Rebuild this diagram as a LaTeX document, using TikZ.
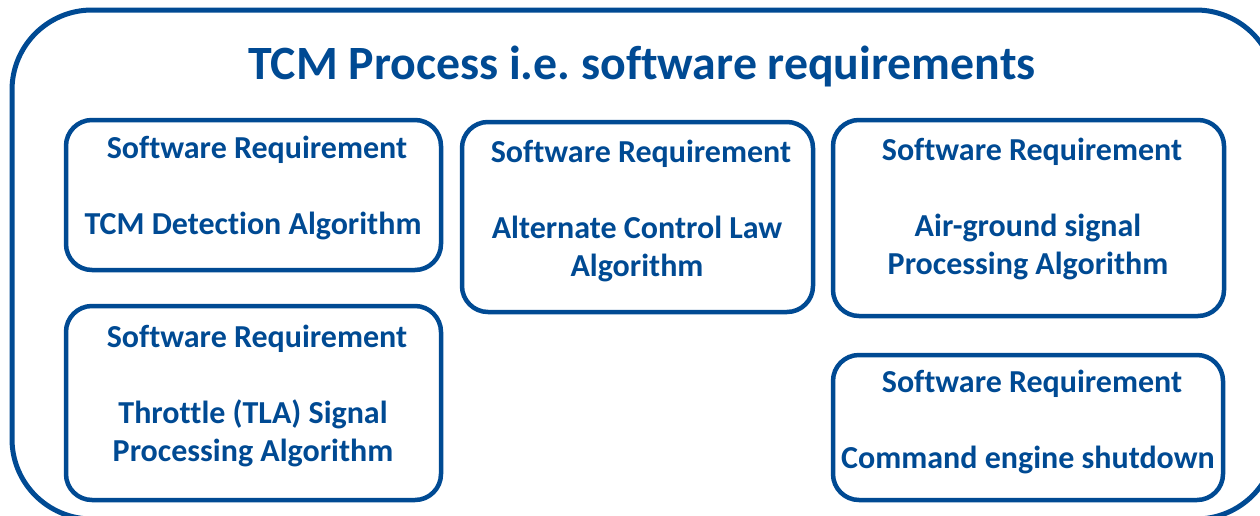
\documentclass[tikz,border=0pt]{standalone}
\usepackage{fontspec}
\setmainfont{Carlito}[Ligatures=NoCommon]
\frenchspacing
\definecolor{reqblue}{RGB}{0,74,147}
\newcommand{\reqhead}{\hspace*{8pt}Software Requirement}
\tikzset{
  outerframe/.style={draw=reqblue, line width=5pt, rounded corners=80pt},
  reqbox/.style={draw=reqblue, line width=4.5pt, rounded corners=26pt, inner sep=0pt},
  reqtext/.style={text=reqblue, font=\bfseries\fontsize{32}{38}\selectfont, align=center, inner sep=0pt},
  titletext/.style={text=reqblue, font=\bfseries\fontsize{47.8}{58}\selectfont, inner sep=0pt}
}
\begin{document}
\begin{tikzpicture}[x=1pt,y=-1pt]
\useasboundingbox (0,0) rectangle (1260,515);
\clip (0,0) rectangle (1260,515);
% outer process frame, running past the right and bottom edges
\draw[outerframe] (12,10) rectangle (1276,519);
\node[titletext] (title) at (642,66) {TCM Process i.e. software requirements};
% requirement boxes
\draw[reqbox] (66,120) rectangle (441,270);
\draw[reqbox] (462,122) rectangle (813,312);
\draw[reqbox] (833,120) rectangle (1224,316);
\draw[reqbox] (66,306) rectangle (441,500);
\draw[reqbox] (833,355) rectangle (1223,500);
% requirement labels
\node[reqtext, anchor=north] (r1) at (253,136) {\reqhead\\[38pt]TCM Detection Algorithm};
\node[reqtext, anchor=north] (r2) at (637,140) {\reqhead\\[38pt]Alternate Control Law\\Algorithm};
\node[reqtext, anchor=north] (r3) at (1028,138) {\reqhead\\[38pt]Air-ground signal\\Processing Algorithm};
\node[reqtext, anchor=north] (r4) at (253,325) {\reqhead\\[38pt]Throttle (TLA) Signal\\Processing Algorithm};
\node[reqtext, anchor=north] (r5) at (1028,370) {\reqhead\\[38pt]Command engine shutdown};
\end{tikzpicture}
\end{document}
